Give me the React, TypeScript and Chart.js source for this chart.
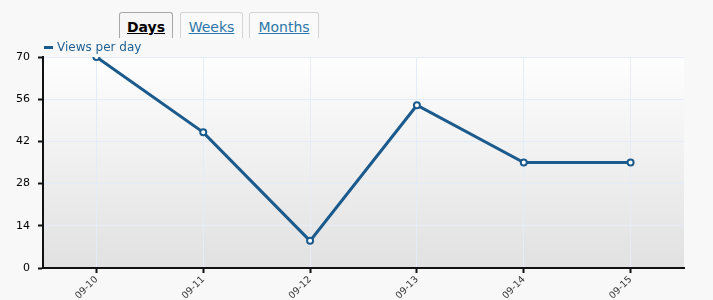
import React, { useEffect, useRef } from "react";
import { Chart, registerables } from "chart.js";

Chart.register(...registerables);

const categories = ["09-10", "09-11", "09-12", "09-13", "09-14", "09-15"];
const viewsPerDay = [70, 45, 9, 54, 35, 35];
const seriesLabel = "Views per day";
const tabs = ["Days", "Weeks", "Months"];
const yMin = 0;
const yMax = 70;
const yStep = 14;

const LINE = "#1b5a8c";
const GRID = "#e4ecf7";
const FONT = "'DejaVu Sans', Verdana, sans-serif";
const TAB_W = [54, 63, 70];
const TAB_GAP = [0, 7, 6];

const bgPlugin = {
  id: "plotBg",
  beforeDraw(chart: any) {
    const { ctx, chartArea } = chart;
    if (!chartArea) return;
    const g = ctx.createLinearGradient(0, chartArea.top, 0, chartArea.bottom);
    g.addColorStop(0, "#fefefe");
    g.addColorStop(1, "#e1e1e1");
    ctx.save();
    ctx.fillStyle = g;
    ctx.fillRect(chartArea.left, chartArea.top, chartArea.right - chartArea.left, chartArea.bottom - chartArea.top);
    ctx.restore();
  },
};

export default function App() {
  const ref = useRef<HTMLCanvasElement | null>(null);

  useEffect(() => {
    if (!ref.current) return;
    const chart = new Chart(ref.current, {
      type: "line",
      data: {
        labels: categories,
        datasets: [
          {
            label: seriesLabel,
            data: viewsPerDay,
            borderColor: LINE,
            borderWidth: 3,
            pointRadius: 3,
            pointBorderWidth: 2,
            pointBackgroundColor: "#ffffff",
            pointBorderColor: LINE,
            tension: 0,
          },
        ],
      },
      options: {
        animation: false,
        responsive: false,
        maintainAspectRatio: false,
        layout: { padding: { left: 0, right: 29, top: 57, bottom: 0 } },
        plugins: { legend: { display: false }, tooltip: { enabled: false } },
        scales: {
          x: {
            offset: true,
            grid: {
              color: GRID,
              tickColor: "#111",
              tickLength: 5,
              tickWidth: 2,
              offset: false,
            },
            border: { color: "#111", width: 2 },
            ticks: {
              maxRotation: 45,
              minRotation: 45,
              autoSkip: false,
              padding: 1,
              color: "#333",
              font: { family: FONT, size: 9.5 },
            },
            afterFit: (s: any) => {
              s.height = 32;
            },
          },
          y: {
            min: yMin,
            max: yMax,
            grid: {
              color: GRID,
              tickColor: "#111",
              tickLength: 5,
              tickWidth: 2,
            },
            border: { color: "#111", width: 2 },
            ticks: {
              stepSize: yStep,
              padding: 8,
              color: "#000",
              font: { family: FONT, size: 11 },
            },
            afterFit: (s: any) => {
              s.width = 43;
            },
          },
        },
      },
      plugins: [bgPlugin],
    });
    return () => chart.destroy();
  }, []);

  return (
    <div
      style={{
        position: "fixed",
        left: 0,
        top: 0,
        width: 713,
        height: 300,
        background: "#f8f8f8",
        overflow: "hidden",
        fontFamily: FONT,
      }}
    >
      <canvas ref={ref} width={713} height={300} style={{ position: "absolute", left: 0, top: 0 }} />
      <div style={{ position: "absolute", left: 119, top: 12, display: "flex" }}>
        {tabs.map((t, i) => (
          <div
            key={t}
            style={{
              width: TAB_W[i],
              marginLeft: TAB_GAP[i],
              height: 26,
              boxSizing: "border-box",
              textAlign: "center",
              border: "1px solid " + (i === 0 ? "#a8a8a8" : "#d4d4d4"),
              borderBottom: "none",
              borderRadius: "3px 3px 0 0",
              background: i === 0 ? "#f6f6f6" : "#fafafa",
              fontSize: 14,
              lineHeight: "26px",
              fontWeight: i === 0 ? "bold" : "normal",
              color: i === 0 ? "#000" : "#2a77a8",
              textDecoration: "underline",
              paddingTop: 1,
            }}
          >
            {t}
          </div>
        ))}
      </div>
      <div
        style={{
          position: "absolute",
          left: 44,
          top: 39,
          display: "flex",
          alignItems: "center",
          fontSize: 12,
          color: "#1f5f92",
          lineHeight: "16px",
        }}
      >
        <span style={{ display: "inline-block", width: 9, height: 3, background: LINE, marginRight: 4 }} />
        {seriesLabel}
      </div>
    </div>
  );
}
